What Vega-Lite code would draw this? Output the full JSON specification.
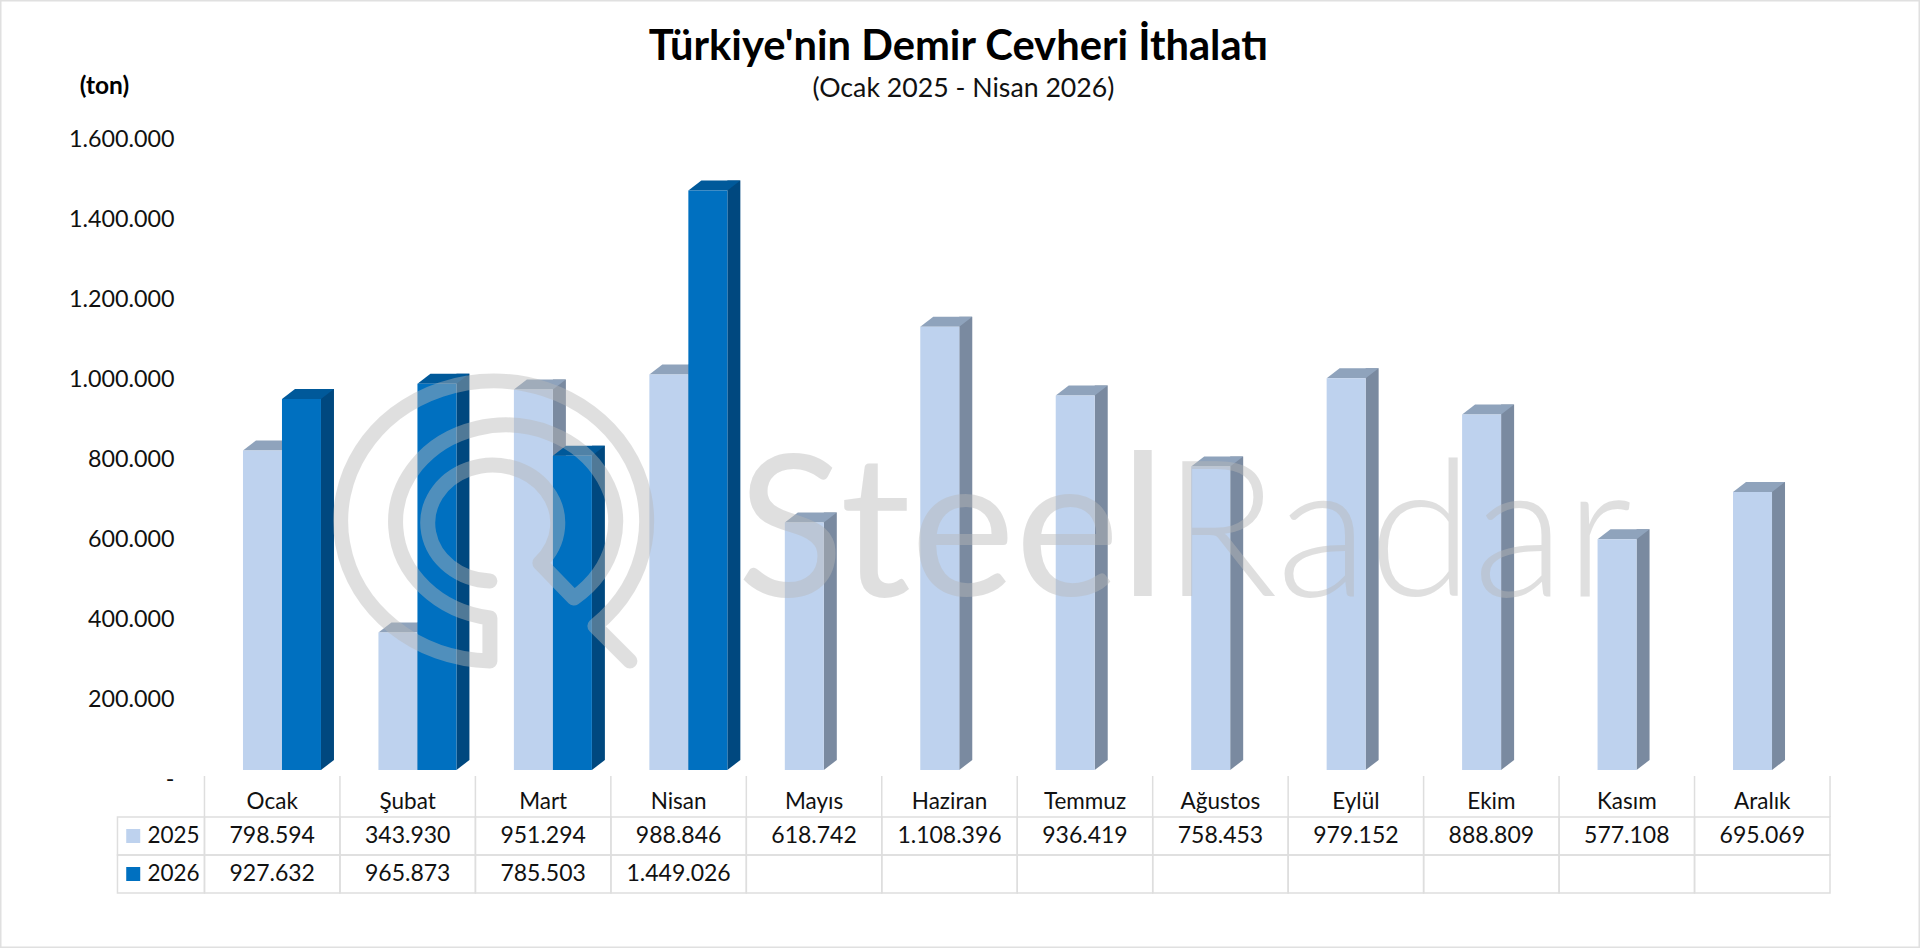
{
"$schema":"https://vega.github.io/schema/vega-lite/v6.json",
"width":1920,"height":948,"padding":0,
"autosize":{"type":"fit","contains":"padding"},
"background":"#ffffff",
"config":{"view":{"stroke":"#e0e0e0","strokeWidth":3},"locale":{"number":{"decimal":",","thousands":".","grouping":[3],"currency":["","₺"]}},"text":{"font":"Lato"}},
"data":{"values":[
{"month":"Ocak","year":"2025","value":798594},{"month":"Şubat","year":"2025","value":343930},{"month":"Mart","year":"2025","value":951294},{"month":"Nisan","year":"2025","value":988846},{"month":"Mayıs","year":"2025","value":618742},{"month":"Haziran","year":"2025","value":1108396},{"month":"Temmuz","year":"2025","value":936419},{"month":"Ağustos","year":"2025","value":758453},{"month":"Eylül","year":"2025","value":979152},{"month":"Ekim","year":"2025","value":888809},{"month":"Kasım","year":"2025","value":577108},{"month":"Aralık","year":"2025","value":695069},
{"month":"Ocak","year":"2026","value":927632},{"month":"Şubat","year":"2026","value":965873},{"month":"Mart","year":"2026","value":785503},{"month":"Nisan","year":"2026","value":1449026},{"month":"Mayıs","year":"2026","value":null},{"month":"Haziran","year":"2026","value":null},{"month":"Temmuz","year":"2026","value":null},{"month":"Ağustos","year":"2026","value":null},{"month":"Eylül","year":"2026","value":null},{"month":"Ekim","year":"2026","value":null},{"month":"Kasım","year":"2026","value":null},{"month":"Aralık","year":"2026","value":null},
{"month":"Haziran","year":"title","label":"Türkiye'nin Demir Cevheri İthalatı","value":0},
{"month":"Haziran","year":"subtitle","label":"(Ocak 2025 - Nisan 2026)","value":0},
{"month":"Mayıs","year":"wm1","label":"Steel","value":0},
{"month":"Ağustos","year":"wm2","label":"Radar","value":0},
{"month":"Mart","year":"logo","label":"logo","value":0}
]},
"encoding":{"x":{"field":"month","type":"nominal","axis":null,"sort":null,"scale":{"type":"band","domain":["Ocak","Şubat","Mart","Nisan","Mayıs","Haziran","Temmuz","Ağustos","Eylül","Ekim","Kasım","Aralık"],"range":[204.5,1830],"paddingInner":0,"paddingOuter":0}}},
"resolve":{"scale":{"y":"independent"}},
"layer":[
{"encoding":{"y":{"field":"value","type":"quantitative","stack":null,"scale":{"domain":[-445000,1925000],"nice":false,"zero":false},"axis":null}},
"resolve":{"axis":{"y":"independent"}},
"layer":[
{"transform":[{"filter":"datum.year=='2025'"}],"mark":{"type":"bar","width":13,"xOffset":16.25,"yOffset":-10,"y2Offset":-10,"color":"#7A8AA0"},"encoding":{"y2":{"datum":0}}},
{"transform":[{"filter":"datum.year=='2025'"}],"mark":{"type":"point","filled":true,"opacity":1,"size":4,"strokeWidth":0,"xOffset":9.75,"color":"#7A8AA0","shape":"M0,0 L13,-10 L0,-10 Z"},"encoding":{"y":{"datum":0,"type":"quantitative","axis":null}}},
{"transform":[{"filter":"datum.year=='2025'"}],"mark":{"type":"point","filled":true,"opacity":1,"size":4,"strokeWidth":0,"xOffset":9.75,"color":"#8FA3BC","shape":"M-39,0 L0,0 L13,-10 L-26,-10 Z"}},
{"transform":[{"filter":"datum.year=='2025'"}],"mark":{"type":"bar","width":39,"xOffset":-9.75,"color":"#BED2EE"},
 "encoding":{"y":{"field":"value","type":"quantitative","stack":null,"scale":{"domain":[-445000,1925000],"nice":false,"zero":false},
 "axis":{"offset":-174,"domain":false,"ticks":false,"grid":false,"labelPadding":0,"labelOffset":9,"values":[0,200000,400000,600000,800000,1000000,1200000,1400000,1600000],"labelExpr":"datum.value===0?'-':datum.label","format":",d","labelFont":"Lato","labelFontSize":23.3,"labelColor":"#111111","labelOverlap":false,"labelFlush":false,"labelBound":false,"encode":{"labels":{"update":{"dx":{"signal":"datum.value===0?-12:0"}}}},"title":"(ton)","titleAngle":0,"titleFont":"Lato","titleFontSize":24.5,"titleFontWeight":"bold","titleColor":"#000000","titleAlign":"center","titleBaseline":"middle","titleX":-70,"titleY":86}},"y2":{"datum":0}}},
{"transform":[{"filter":"datum.year=='2026' && isValid(datum.value)"}],"mark":{"type":"bar","width":13,"xOffset":55.25,"yOffset":-10,"y2Offset":-10,"color":"#00487F"},"encoding":{"y2":{"datum":0}}},
{"transform":[{"filter":"datum.year=='2026' && isValid(datum.value)"}],"mark":{"type":"point","filled":true,"opacity":1,"size":4,"strokeWidth":0,"xOffset":48.75,"color":"#00487F","shape":"M0,0 L13,-10 L0,-10 Z"},"encoding":{"y":{"datum":0,"type":"quantitative","axis":null}}},
{"transform":[{"filter":"datum.year=='2026' && isValid(datum.value)"}],"mark":{"type":"point","filled":true,"opacity":1,"size":4,"strokeWidth":0,"xOffset":48.75,"color":"#00599A","shape":"M-39,0 L0,0 L13,-10 L-26,-10 Z"}},
{"transform":[{"filter":"datum.year=='2026' && isValid(datum.value)"}],"mark":{"type":"bar","width":39,"xOffset":29.25,"color":"#0070C0"},"encoding":{"y2":{"datum":0}}},
{"transform":[{"filter":"datum.year=='title'"}],"mark":{"type":"text","font":"Lato","fontWeight":"bold","fontSize":41.7,"color":"#000000","align":"center","baseline":"middle","xOffset":9},"encoding":{"y":{"datum":1807500,"type":"quantitative","axis":null},"text":{"field":"label"}}},
{"transform":[{"filter":"datum.year=='subtitle'"}],"mark":{"type":"text","font":"Lato","fontSize":26.7,"color":"#111111","align":"center","baseline":"middle","xOffset":14},"encoding":{"y":{"datum":1702000,"type":"quantitative","axis":null},"text":{"field":"label"}}},
{"transform":[{"filter":"datum.year=='wm1'"}],"mark":{"type":"text","font":"Lato","fontWeight":"normal","fontSize":198,"color":"#B8B8B8","opacity":0.435,"align":"left","baseline":"alphabetic","xOffset":-77},"encoding":{"y":{"datum":435000,"type":"quantitative","axis":null},"text":{"field":"label"}}},
{"transform":[{"filter":"datum.year=='wm2'"}],"mark":{"type":"text","font":"Lato","fontWeight":300,"fontSize":190,"color":"#B8B8B8","opacity":0.435,"align":"left","baseline":"alphabetic","xOffset":-58},"encoding":{"y":{"datum":435000,"type":"quantitative","axis":null},"text":{"field":"label"}}},
{"transform":[{"filter":"datum.year=='logo'"}],"mark":{"type":"point","filled":false,"size":4,"stroke":"#B8B8B8","opacity":0.435,"strokeWidth":15,"strokeCap":"round","strokeJoin":"round","xOffset":-44.25,"shape":"M131,138 L96,103 A153,140 0 1 0 -9,138 L-9,95 A110,97 0 1 1 75,75 L41,40 A65,58 0 1 0 -9,58"},"encoding":{"y":{"datum":617500,"type":"quantitative","axis":null}}}
]},
{"encoding":{"y":{"field":"year","type":"nominal","axis":null,"sort":null,"scale":{"type":"band","domain":["header","2025","2026"],"range":[779,893],"paddingInner":0,"paddingOuter":0}}},
"layer":[
{"transform":[{"filter":"datum.year=='2025' || datum.year=='2026'"}],"mark":{"type":"rect","fill":"transparent","stroke":"#dedede","strokeWidth":1.5}},
{"transform":[{"filter":"(datum.year=='2025' || datum.year=='2026') && datum.month=='Ocak'"}],"mark":{"type":"rect","width":87,"xOffset":-111.25,"fill":"transparent","stroke":"#dedede","strokeWidth":1.5}},
{"transform":[{"filter":"datum.year=='2025'"}],"mark":{"type":"rect","width":1.5,"height":41,"yOffset":-1.5,"xOffset":-67.75,"color":"#dedede"},"encoding":{"y":{"datum":"header"}}},
{"transform":[{"filter":"datum.month=='Aralık' && datum.year=='2025'"}],"mark":{"type":"rect","width":1.5,"height":41,"yOffset":-1.5,"xOffset":67.75,"color":"#dedede"},"encoding":{"y":{"datum":"header"}}},
{"transform":[{"filter":"datum.year=='2025'"}],"mark":{"type":"text","font":"Lato","fontSize":22.5,"color":"#111111","baseline":"middle","yOffset":4},"encoding":{"y":{"datum":"header"},"text":{"field":"month"}}},
{"transform":[{"filter":"(datum.year=='2025' || datum.year=='2026') && isValid(datum.value)"}],"mark":{"type":"text","font":"Lato","fontSize":23,"color":"#111111","baseline":"middle"},"encoding":{"text":{"field":"value","type":"quantitative","format":",d"}}},
{"transform":[{"filter":"(datum.year=='2025' || datum.year=='2026') && datum.month=='Ocak'"}],"mark":{"type":"rect","width":14,"height":14,"xOffset":-139},"encoding":{"color":{"field":"year","type":"nominal","legend":null,"scale":{"domain":["2025","2026"],"range":["#BED2EE","#0070C0"]}}}},
{"transform":[{"filter":"(datum.year=='2025' || datum.year=='2026') && datum.month=='Ocak'"}],"mark":{"type":"text","font":"Lato","fontSize":22.5,"color":"#111111","baseline":"middle","xOffset":-98.75},"encoding":{"text":{"field":"year"}}}
]}
]}
